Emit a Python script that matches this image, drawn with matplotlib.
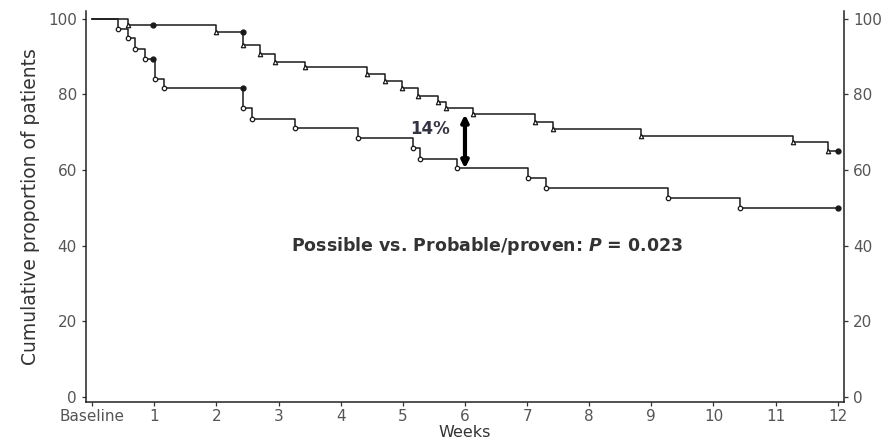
import numpy as np
import matplotlib.pyplot as plt

# step data (weeks, cumulative %)
poss_weeks = [0, 0.58, 2.0, 2.43, 2.70, 2.94, 3.43, 4.42, 4.71, 4.98, 5.25, 5.57, 5.70,
              6.13, 7.13, 7.42, 8.84, 11.28, 11.85]
poss_surv = [100, 98.3, 96.6, 93.0, 90.8, 88.6, 87.3, 85.5, 83.6, 81.6, 79.5, 78.0, 76.3,
             74.7, 72.6, 70.8, 68.9, 67.3, 65.1]

prob_weeks = [0, 0.42, 0.58, 0.69, 0.85, 1.01, 1.15, 2.43, 2.57, 3.26, 4.28, 5.17, 5.27,
              5.87, 7.02, 7.31, 9.27, 10.42]
prob_surv = [100, 97.4, 94.8, 92.1, 89.5, 84.2, 81.6, 76.3, 73.6, 71.0, 68.4, 65.7, 63.0,
             60.4, 57.8, 55.2, 52.6, 50.0]

# censored (filled dot) points
poss_cens_w = [0.98, 2.43, 12.0]
poss_cens_s = [98.3, 96.6, 65.1]
prob_cens_w = [0.98, 2.43, 12.0]
prob_cens_s = [89.5, 81.6, 50.0]

end_week = 12.0
xticks = list(range(13))
xlabels = ['Baseline'] + [str(i) for i in range(1, 13)]
yticks = [0, 20, 40, 60, 80, 100]

plt.rcParams['font.family'] = ['DejaVu Sans']

fig = plt.figure(figsize=(8.94, 4.42), dpi=100)
ax = fig.add_axes([0.0962, 0.0905, 0.8478, 0.884])

tick_col = '#555555'
line_col = '#1a1a1a'

ax.step(poss_weeks + [end_week], poss_surv + [poss_surv[-1]], where='post',
        color=line_col, lw=1.1)
ax.step(prob_weeks + [end_week], prob_surv + [prob_surv[-1]], where='post',
        color=line_col, lw=1.1)

ax.plot(poss_weeks[1:], poss_surv[1:], ls='none', marker='^', ms=3.2,
        mfc='white', mec=line_col, mew=0.9)
ax.plot(prob_weeks[1:], prob_surv[1:], ls='none', marker='o', ms=3.2,
        mfc='white', mec=line_col, mew=0.9)
ax.plot(poss_cens_w, poss_cens_s, ls='none', marker='o', ms=3.5, color=line_col)
ax.plot(prob_cens_w, prob_cens_s, ls='none', marker='o', ms=3.5, color=line_col)

# difference arrow at week 6
ax.annotate('', xy=(6.0, poss_surv[12] - 1.6), xytext=(6.0, prob_surv[13]),
            arrowprops=dict(arrowstyle='<|-|>', lw=3, color='black',
                            mutation_scale=10, shrinkA=0, shrinkB=0))
ax.text(5.44, 70.8, '14%', fontsize=12, fontweight='bold', color='#333344',
        ha='center', va='center')

ax.text(6.36, 40, 'Possible vs. Probable/proven: $\\boldsymbol{P}$ = 0.023',
        fontsize=12.5, fontweight='bold', color='#333333', ha='center', va='center')

ax.set_xlim(-0.1, 12.1)
ax.set_ylim(-1.4, 102)
ax.set_xticks(xticks)
ax.set_xticklabels(xlabels)
ax.set_yticks(yticks)

ax.spines['top'].set_visible(False)
for s in ['left', 'right', 'bottom']:
    ax.spines[s].set_linewidth(1.1)
    ax.spines[s].set_color('#222222')

ax.tick_params(axis='both', labelsize=11, labelcolor=tick_col, length=3,
               width=0.9, color='#333333', direction='out')
ax.tick_params(axis='x', pad=2)
ax.tick_params(axis='y', right=True, labelright=True)

ax.set_xlabel('Weeks', fontsize=11.5, color='#333333', labelpad=0.5)
ax.set_ylabel('Cumulative proportion of patients', fontsize=13.5, color='#333333',
              labelpad=6)

fig.savefig('out.png', dpi=100)
